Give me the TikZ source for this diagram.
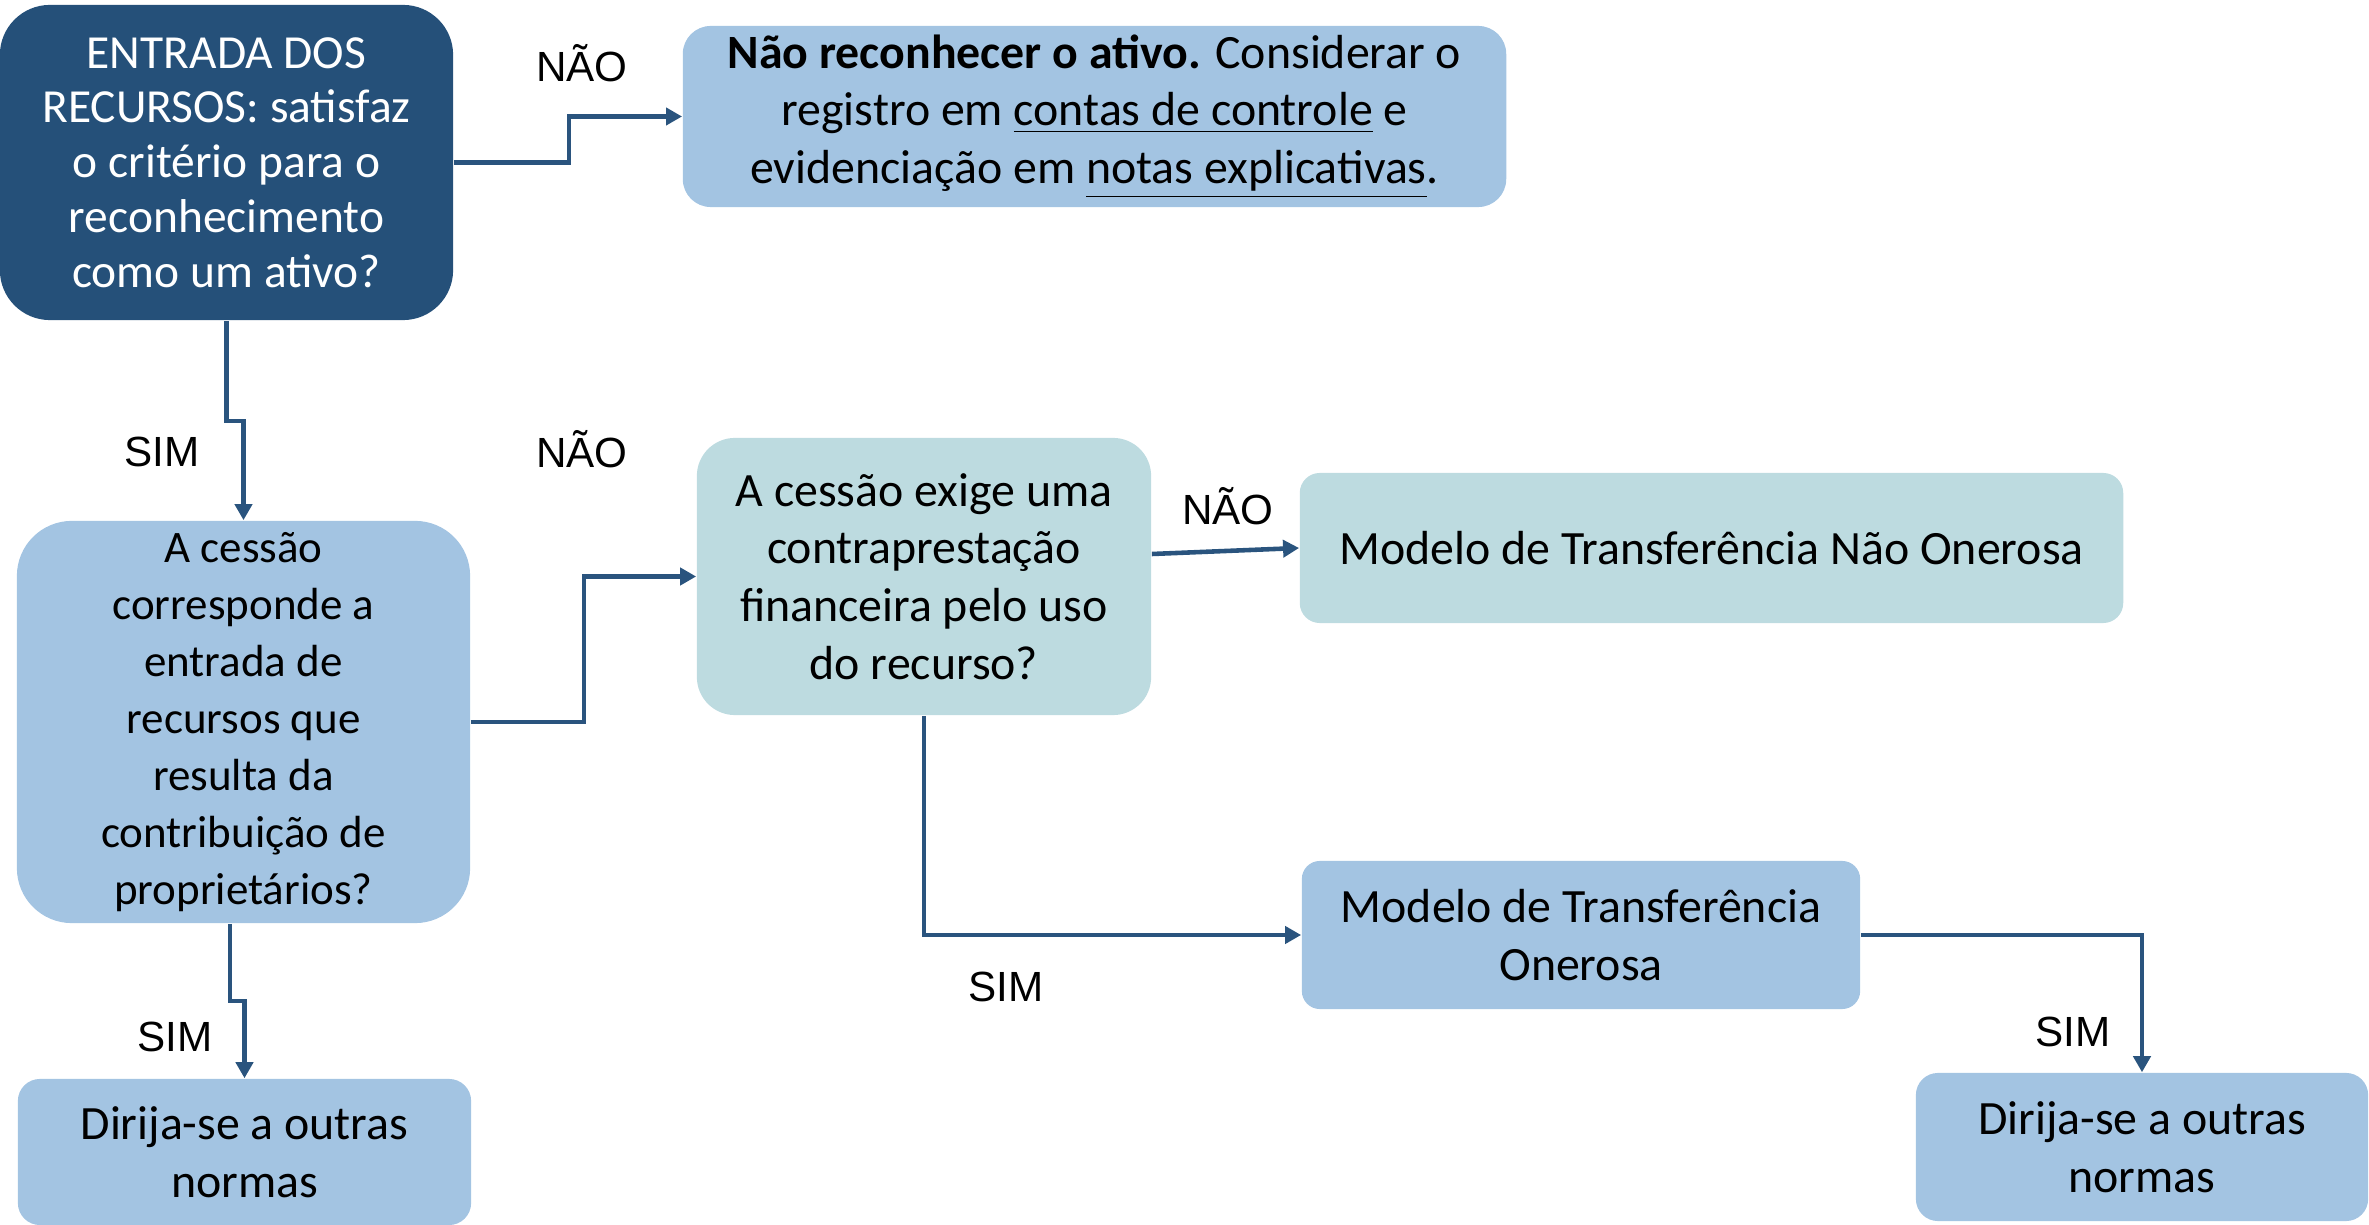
\documentclass[tikz,border=0pt]{standalone}
\usepackage{fontspec}
\setmainfont{Carlito}
\newfontfamily\arialfont{Liberation Sans}
\usetikzlibrary{arrows.meta}
\definecolor{darkblue}{RGB}{37,80,121}
\definecolor{lightblue}{RGB}{163,196,226}
\definecolor{lightteal}{RGB}{189,219,224}
\definecolor{linkblue}{RGB}{42,84,126}

\begin{document}
\begin{tikzpicture}[x=0.01cm,y=-0.01cm,
  box/.style={align=center, inner sep=0pt, font=\fontsize{13.6}{16.4}\selectfont},
  lbl/.style={font=\arialfont\fontsize{12}{14}\selectfont, inner sep=0pt},
  conn/.style={draw=linkblue, line width=1.3pt, -{Triangle[length=0.16cm,width=0.17cm]}}]
  \useasboundingbox (0,0) rectangle (2369,1225);

  \node (entrada) at (226.5,162.5) [box, fill=darkblue, text=white, rounded corners=0.5cm,
    minimum width=4.53cm, minimum height=3.15cm, font=\fontsize{13.5}{15.6}\selectfont]
    {ENTRADA DOS\\ RECURSOS: satisfaz\\ o critério para o\\ reconhecimento\\ como um ativo?};
  \node (naorec) at (1094.5,116.5) [box, fill=lightblue, rounded corners=0.28cm,
    minimum width=8.23cm, minimum height=1.81cm]
    {\textbf{Não reconhecer o ativo.} Considerar o\\ registro em \underline{contas de controle} e\\ evidenciação em \underline{notas explicativas}.};
  \node (cessao) at (243.5,722) [box, fill=lightblue, rounded corners=0.55cm,
    minimum width=4.53cm, minimum height=4.02cm, font=\fontsize{12.8}{16.2}\selectfont]
    {A cessão\\ corresponde a\\ entrada de\\ recursos que\\ resulta da\\ contribuição de\\ proprietários?};
  \node (exige) at (924,576.5) [box, fill=lightteal, rounded corners=0.38cm,
    minimum width=4.54cm, minimum height=2.77cm]
    {A cessão exige uma\\ contraprestação\\ financeira pelo uso\\ do recurso?};
  \node (naoonerosa) at (1711.5,548) [box, fill=lightteal, rounded corners=0.2cm,
    minimum width=8.23cm, minimum height=1.5cm]
    {Modelo de Transferência Não Onerosa};
  \node (onerosa) at (1581,935) [box, fill=lightblue, rounded corners=0.18cm,
    minimum width=5.58cm, minimum height=1.48cm]
    {Modelo de Transferência\\ Onerosa};
  \node (outras2) at (2142,1147) [box, fill=lightblue, rounded corners=0.22cm,
    minimum width=4.52cm, minimum height=1.48cm]
    {Dirija-se a outras\\ normas};
  \node (outras1) at (244.5,1152) [box, fill=lightblue, rounded corners=0.22cm,
    minimum width=4.53cm, minimum height=1.46cm]
    {Dirija-se a outras\\ normas};

  \node (nao1) at (582,63) [lbl] {NÃO};
  \node (sim1) at (162,452) [lbl] {SIM};
  \node (nao2) at (582,449) [lbl] {NÃO};
  \node (nao3) at (1228,506) [lbl] {NÃO};
  \node (sim3) at (1006,987) [lbl] {SIM};
  \node (sim4) at (2073,1032) [lbl] {SIM};
  \node (sim2) at (175,1037) [lbl] {SIM};

  \draw[conn] (entrada.east) -- ++(115,0) |- (naorec.west);
  \draw[conn] (entrada.south) -- ++(0,100) -| (cessao.north);
  \draw[conn] (cessao.east) -- ++(113,0) |- (exige.west);
  \draw[conn] ([yshift=-0.06cm]exige.east |- naoonerosa.west) -- (naoonerosa.west);
  \draw[conn] (exige.south) |- (onerosa.west);
  \draw[conn] (onerosa.east) -| (outras2.north);
  \draw[conn] ([xshift=-0.135cm]cessao.south) -- ++(0,77) -| (outras1.north);
\end{tikzpicture}
\end{document}
